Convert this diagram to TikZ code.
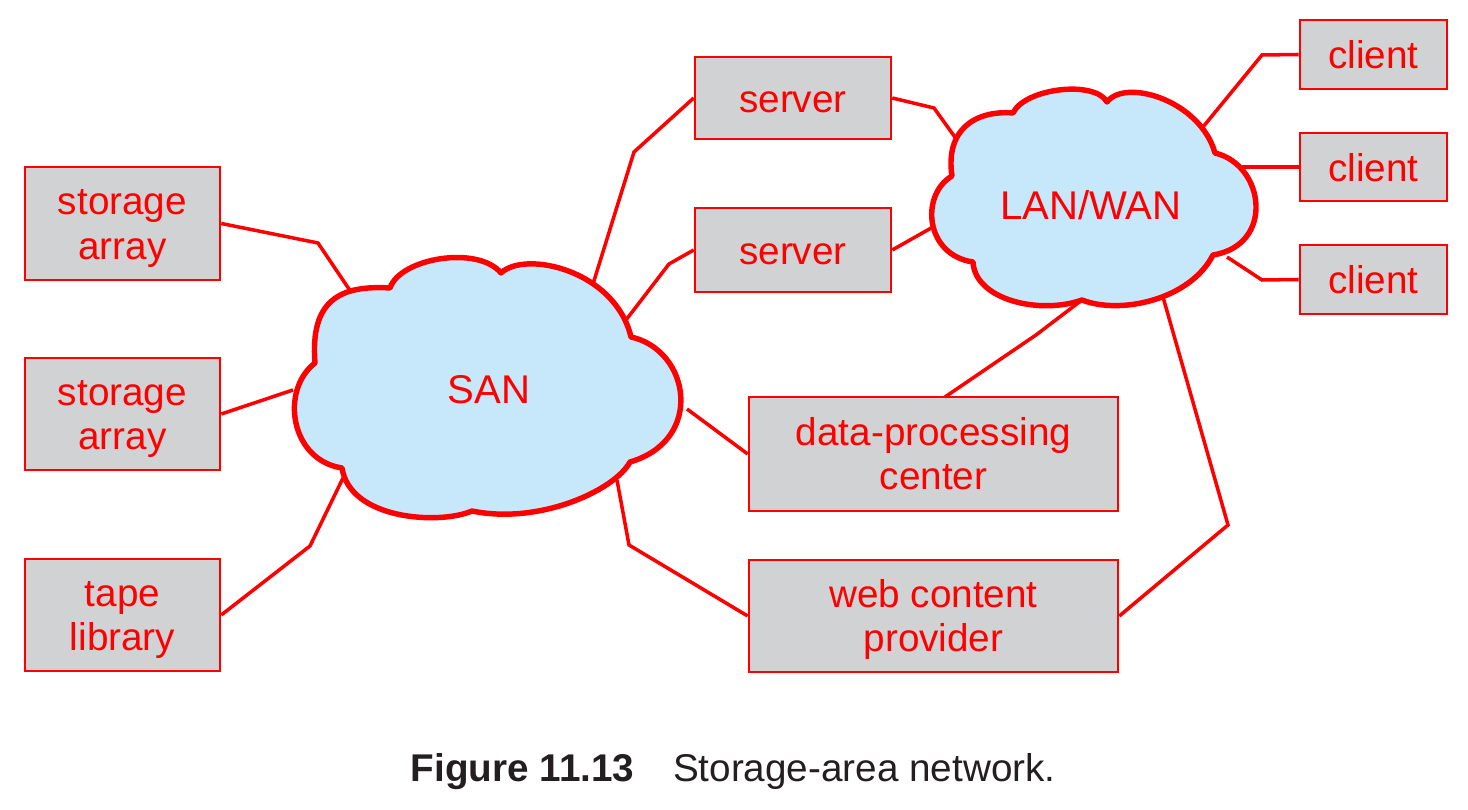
\documentclass[tikz,border=0pt]{standalone}
\usepackage{fontspec}
\setmainfont{Liberation Sans}
\definecolor{netred}{RGB}{255,0,0}
\definecolor{boxgray}{RGB}{209,210,212}
\definecolor{cloudblue}{RGB}{198,232,250}
\definecolor{captext}{RGB}{35,31,32}
\begin{document}
\begin{tikzpicture}[x=0.01cm,y=-0.01cm,
  dev/.style={draw=netred,line width=0.7pt,fill=boxgray,text=netred,inner sep=0pt,
    align=center,font=\fontsize{11}{12.7}\selectfont,text height=8pt,text depth=0pt},
  twoline/.style={text height=22.4pt,text depth=2pt},
  cloudshape/.style={draw=netred,line width=1.55pt,fill=cloudblue,line join=round},
  link/.style={draw=netred,line width=1pt,line join=miter},
  cloudlabel/.style={text=netred,font=\fontsize{11.4}{13}\selectfont,inner sep=0pt}]
\useasboundingbox (0,0) rectangle (1468,810);

% SAN cloud
\draw[cloudshape] (390,288) .. controls (400,258) and (478,245) .. (501,273)
  .. controls (525,250) and (615,270) .. (631,337)
  .. controls (690,350) and (705,440) .. (630,462)
  .. controls (615,490) and (540,525) .. (472,511)
  .. controls (440,525) and (350,520) .. (342,468)
  .. controls (290,460) and (280,390) .. (315,363)
  .. controls (310,300) and (340,285) .. (390,288) -- cycle;
\node[cloudlabel] (san) at (489,390) {SAN};

% LAN/WAN cloud
\draw[cloudshape] (1013,113) .. controls (1025,88) and (1095,80) .. (1107,102)
  .. controls (1125,78) and (1200,100) .. (1215,153)
  .. controls (1265,165) and (1275,245) .. (1213,255)
  .. controls (1190,300) and (1120,315) .. (1082,300)
  .. controls (1040,315) and (975,300) .. (973,262)
  .. controls (925,255) and (920,195) .. (952,176)
  .. controls (945,130) and (975,110) .. (1013,113) -- cycle;
\node[cloudlabel] (lan) at (1091,205) {LAN/WAN};

% cloud attachment points
\coordinate (sanA) at (351,292);
\coordinate (sanB) at (293,390);
\coordinate (sanC) at (343,478);
\coordinate (sanD) at (593,284);
\coordinate (sanE) at (626,320);
\coordinate (sanF) at (687,409);
\coordinate (sanG) at (617,480);
\coordinate (lanA) at (957,140);
\coordinate (lanB) at (933,227);
\coordinate (lanC) at (1203,127);
\coordinate (lanD) at (1242,167);
\coordinate (lanE) at (1227,257);
\coordinate (lanF) at (1082,300);
\coordinate (lanG) at (1163,297);

% devices
\node[dev,twoline,minimum width=1.95cm,minimum height=1.13cm] (sa1) at (122.5,223.5) {storage\\array};
\node[dev,twoline,minimum width=1.95cm,minimum height=1.12cm] (sa2) at (122.5,414) {storage\\array};
\node[dev,twoline,minimum width=1.95cm,minimum height=1.12cm] (tape) at (122.5,615) {tape\\library};
\node[dev,minimum width=1.96cm,minimum height=0.82cm] (srv1) at (793,98) {server};
\node[dev,minimum width=1.96cm,minimum height=0.84cm] (srv2) at (793,250) {server};
\node[dev,twoline,minimum width=3.69cm,minimum height=1.14cm] (dpc) at (933.5,454) {data-processing\\center};
\node[dev,twoline,minimum width=3.69cm,minimum height=1.12cm] (wcp) at (933.5,616) {web content\\provider};
\node[dev,minimum width=1.47cm,minimum height=0.69cm] (cl1) at (1373.5,54.5) {client};
\node[dev,minimum width=1.47cm,minimum height=0.68cm] (cl2) at (1373.5,167) {client};
\node[dev,minimum width=1.47cm,minimum height=0.69cm] (cl3) at (1373.5,279.5) {client};
\coordinate (dpcTop) at (945,397);

% connectors
\draw[link] (sa1.east) -- (318,243) -- (sanA);
\draw[link] (sa2.east) -- (sanB);
\draw[link] (tape.east) -- (310,546) -- (sanC);
\draw[link] (sanD) -- (634,152) -- (srv1.west);
\draw[link] (sanE) -- (669,264) -- (srv2.west);
\draw[link] (sanF) -- (dpc.west);
\draw[link] (sanG) -- (629,545) -- (wcp.west);
\draw[link] (srv1.east) -- (934,108) -- (lanA);
\draw[link] (srv2.east) -- (lanB);
\draw[link] (lanC) -- (1262,55) -- (cl1.west);
\draw[link] (lanD) -- (cl2.west);
\draw[link] (lanE) -- (1262,280) -- (cl3.west);
\draw[link] (lanF) -- (1036,335) -- (dpcTop);
\draw[link] (lanG) -- (1228,525) -- (wcp.east);

% caption
\node[anchor=base west,inner sep=0pt,text=captext,font=\fontsize{11}{13}\selectfont] (cap) at (410,782)
  {\textbf{Figure 11.13}\quad Storage-area network.};
\end{tikzpicture}
\end{document}
